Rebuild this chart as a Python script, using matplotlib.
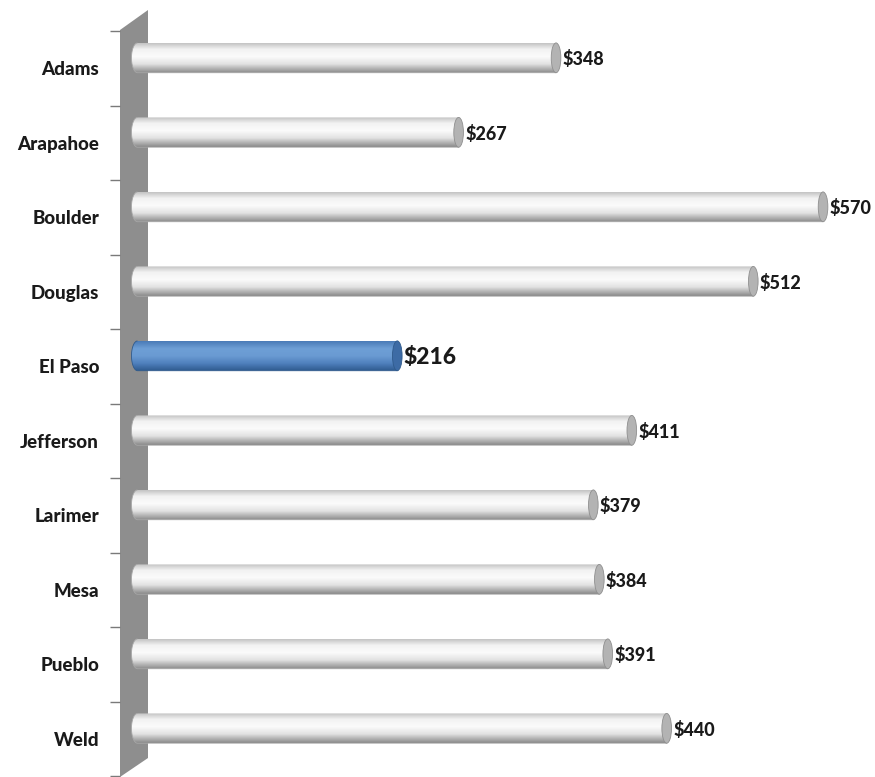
import numpy as np
import matplotlib.pyplot as plt
from matplotlib.colors import LinearSegmentedColormap
from matplotlib.patches import Ellipse, PathPatch, Polygon
from matplotlib.path import Path

counties = ["Adams", "Arapahoe", "Boulder", "Douglas", "El Paso",
            "Jefferson", "Larimer", "Mesa", "Pueblo", "Weld"]
values = [348, 267, 570, 512, 216, 411, 379, 384, 391, 440]
highlight = "El Paso"

plt.rcParams['font.family'] = ['Lato', 'DejaVu Sans']

W, H = 875, 777
fig = plt.figure(figsize=(W / 100, H / 100), dpi=100)
fig.patch.set_facecolor('white')

# gray 3d back wall (pixel coords from top-left)
wall = [(120, 30), (148, 10), (148, 758), (120, 777)]
fig.add_artist(Polygon([(x / W, 1 - y / H) for x, y in wall], closed=True,
                       transform=fig.transFigure, facecolor='#8e8e8e',
                       edgecolor='none', zorder=0))

ax = fig.add_axes([120 / W, 1 / H, 1 - 120 / W, (776 - 31) / H])
ax.set_facecolor('none')

gray_cm = LinearSegmentedColormap.from_list(
    'g', [(0, '#c4c4c4'), (0.2, '#f2f2f2'), (0.45, '#fbfbfb'),
          (0.7, '#e2e2e2'), (1, '#8a8a8a')])
blue_cm = LinearSegmentedColormap.from_list(
    'b', [(0, '#4a7bb7'), (0.25, '#6e9fd6'), (0.5, '#6a9ad2'),
          (0.75, '#4f80bd'), (1, '#2e5a8e')])

grad = np.linspace(0, 1, 64).reshape(-1, 1)
h = 0.40        # bar thickness (category units)
off = -0.14     # 3d offset of bars above category centre
rx = 5          # end-cap radius in value units

for i, (name, v) in enumerate(zip(counties, values)):
    yc = i + off
    hot = name == highlight
    cm = blue_cm if hot else gray_cm
    t = np.linspace(np.pi / 2, 3 * np.pi / 2, 30)
    pts = np.column_stack([rx * np.cos(t), yc - h / 2 * np.sin(t)])
    pts = np.vstack([pts, [[v, yc + h / 2], [v, yc - h / 2]]])
    path = Path(pts, closed=False)
    clip = PathPatch(path, transform=ax.transData)
    im = ax.imshow(grad, cmap=cm, aspect='auto', origin='upper',
                   extent=(-rx, v, yc + h / 2, yc - h / 2), zorder=2)
    im.set_clip_path(clip)
    ax.add_patch(PathPatch(path, fill=False, lw=0.6,
                           edgecolor='#2f5a8c' if hot else '#a8a8a8', zorder=3))
    ax.add_patch(Ellipse((v, yc), 2 * rx * 0.8, h, zorder=4,
                         facecolor='#3d6ba5' if hot else '#b3b3b3',
                         edgecolor='#2f5a8c' if hot else '#8f8f8f', lw=0.6))
    ax.text(v + rx + 0.5, yc + 0.02, f"${v}", va='center', ha='left',
            fontweight='black', color='#1a1a1a',
            fontsize=16.5 if hot else 13)

ax.set_xlim((120 - 137.5) / 1.2027, (875 - 137.5) / 1.2027)
ax.set_ylim(len(counties) - 0.5, -0.5)

ax.set_yticks(range(len(counties)))
ax.set_yticklabels(counties, fontweight='black', fontsize=13.5, color='#1a1a1a')
ax.tick_params(axis='y', which='major', length=0, pad=15)
ax.set_yticks(np.arange(-0.5, len(counties)), minor=True)
ax.tick_params(axis='y', which='minor', length=7, color='#7a7a7a', width=1)
ax.set_xticks([])
for s in ax.spines.values():
    s.set_visible(False)

fig.savefig('out.png', dpi=100, facecolor='white')
